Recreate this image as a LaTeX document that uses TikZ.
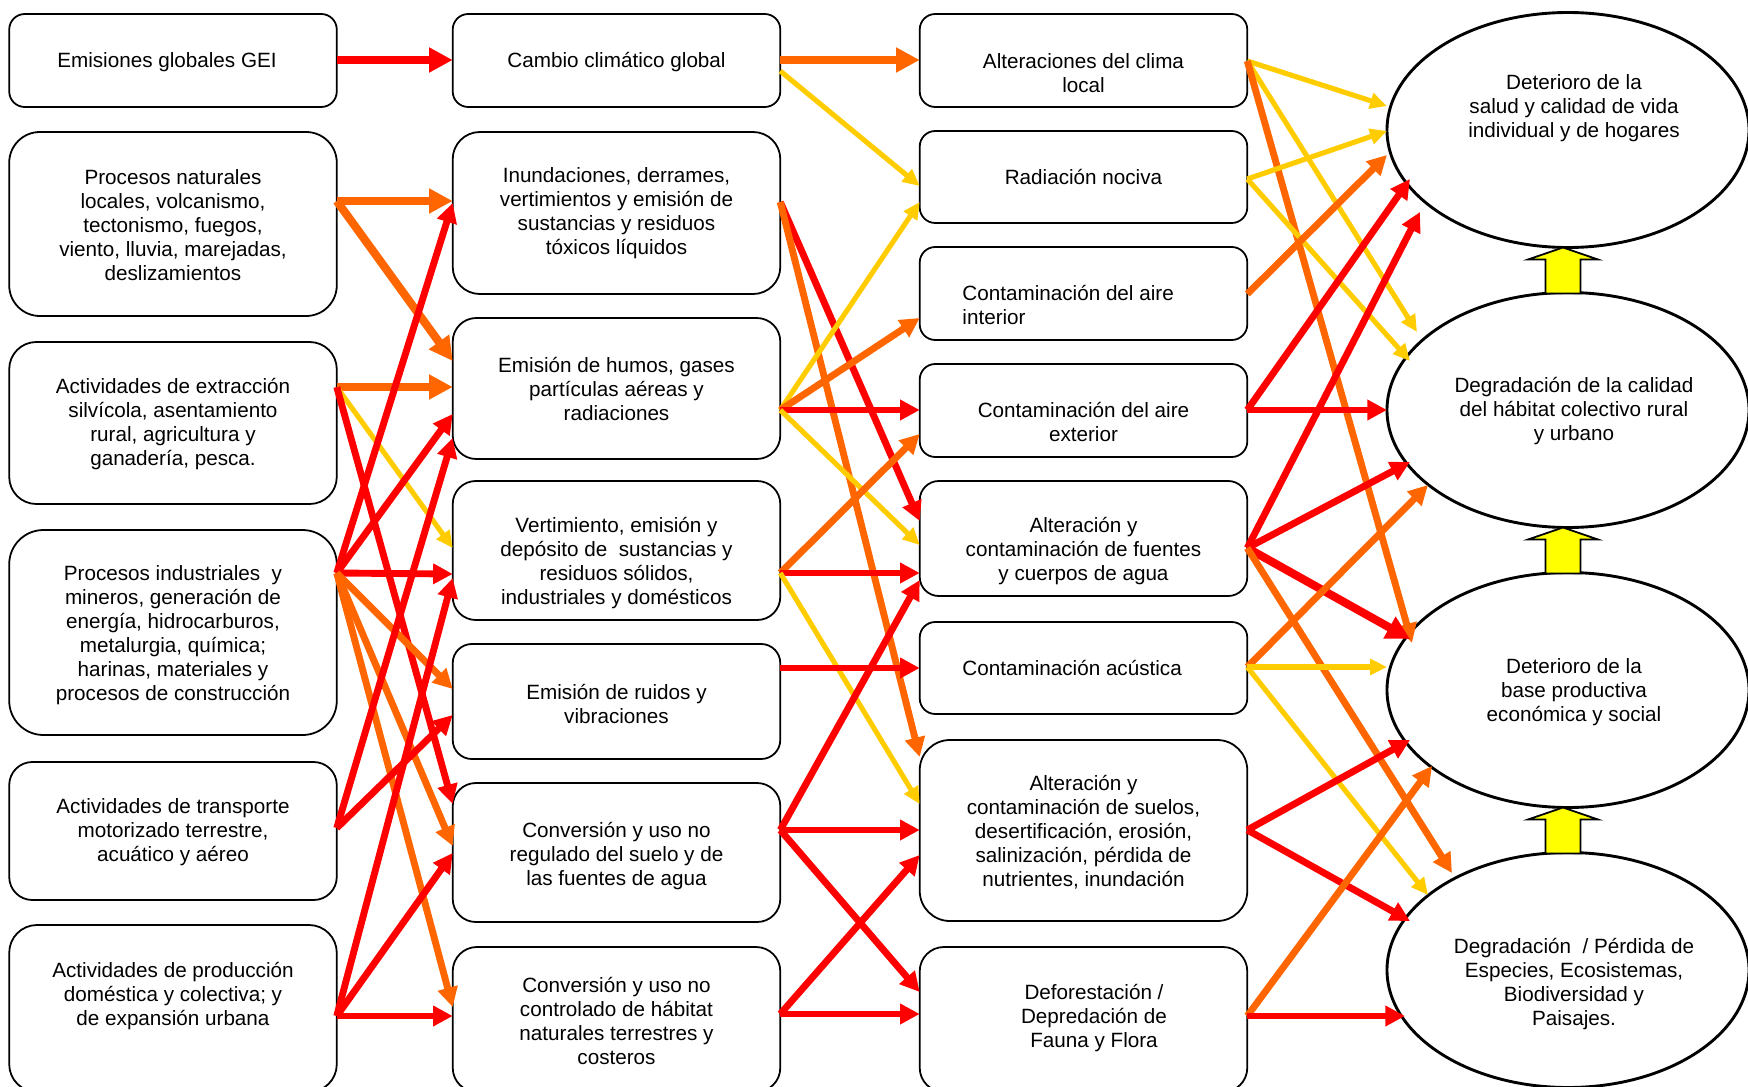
\documentclass[tikz,border=0pt]{standalone}
\usepackage{fontspec}
\setmainfont{Liberation Sans}
\usetikzlibrary{arrows.meta,shapes.geometric,calc}
\definecolor{cRed}{HTML}{FF0000}
\definecolor{cOrange}{HTML}{FF6600}
\definecolor{cGold}{HTML}{FFCC00}
\definecolor{cYellow}{HTML}{FFFF00}
\begin{document}
\begin{tikzpicture}[x=0.45pt,y=-0.45pt,
  box/.style={draw, line width=0.8pt, fill=white, inner sep=0pt, outer sep=0pt, minimum width=147.4pt},
  goal/.style={ellipse, draw, line width=1.3pt, fill=white, inner sep=0pt, outer sep=0pt,
               minimum width=162.9pt, minimum height=105.75pt},
  txt/.style={align=center, inner sep=0pt, yshift=-1pt, font=\fontsize{9.3pt}{10.8pt}\selectfont},
  ltxt/.style={txt, align=left, anchor=west},
  rd/.style={draw=cRed}, og/.style={draw=cOrange}, yl/.style={draw=cGold},
  heavy/.style={line width=3.7pt, -{Triangle[length=10.6pt,width=10.6pt]}},
  medium/.style={line width=3.1pt, -{Triangle[length=8.8pt,width=8.8pt]}},
  light/.style={line width=2.3pt, -{Triangle[length=7.6pt,width=7pt]}},
  uparrow/.style={draw, line width=0.8pt, fill=cYellow, line join=miter}
]
\useasboundingbox (0,0) rectangle (1748,1087);
\clip (0,0) rectangle (1748,1087);

% impact ellipses (right column)
\node[goal] (E1) at (1568,130) {};
\node[goal] (E2) at (1568,410) {};
\node[goal] (E3) at (1568,690) {};
\node[goal] (E4) at (1568,970) {};

% block arrows linking the impacts upwards
\foreach \a in {E1,E2,E3}{
  \draw[uparrow] ($(\a.south)+(-5,0)$) -- ++(35,12) -- ++(-17.5,0) -- ++(0,34)
     -- ++(-35,0) -- ++(0,-34) -- ++(-17.5,0) -- cycle;
}

% column 1: drivers
\node[box, minimum height=41.85pt, rounded corners=7pt]    (B1) at (173,60.5) {};
\node[box, minimum height=82.8pt,  rounded corners=13.8pt] (B2) at (173,224) {};
\node[box, minimum height=72.9pt,  rounded corners=12.2pt] (B3) at (173,423) {};
\node[box, minimum height=92.25pt, rounded corners=15.4pt] (B4) at (173,632.5) {};
\node[box, minimum height=62.1pt,  rounded corners=10.4pt] (B5) at (173,831) {};
\node[box, minimum height=75.15pt, rounded corners=12.5pt] (B6) at (173,1008.5) {};

% column 2: pressures
\node[box, minimum height=41.85pt, rounded corners=7pt]    (C1) at (616.5,60.5) {};
\node[box, minimum height=72.9pt,  rounded corners=12.2pt] (C2) at (616.5,213) {};
\node[box, minimum height=63.45pt, rounded corners=10.6pt] (C3) at (616.5,388.5) {};
\node[box, minimum height=62.55pt, rounded corners=10.4pt] (C4) at (616.5,550.5) {};
\node[box, minimum height=51.75pt, rounded corners=8.6pt]  (C5) at (616.5,701.5) {};
\node[box, minimum height=62.55pt, rounded corners=10.4pt] (C6) at (616.5,852.5) {};
\node[box, minimum height=65.25pt, rounded corners=10.9pt] (C7) at (616.5,1019.5) {};

% column 3: states
\node[box, minimum height=41.85pt, rounded corners=7pt]    (D1) at (1083.5,60.5) {};
\node[box, minimum height=41.4pt,  rounded corners=7pt]    (D2) at (1083.5,177) {};
\node[box, minimum height=41.85pt, rounded corners=7pt]    (D3) at (1083.5,293.5) {};
\node[box, minimum height=41.85pt, rounded corners=7pt]    (D4) at (1083.5,410.5) {};
\node[box, minimum height=51.75pt, rounded corners=8.6pt]  (D5) at (1083.5,538.5) {};
\node[box, minimum height=41.4pt,  rounded corners=7pt]    (D6) at (1083.5,668) {};
\node[box, minimum height=81.45pt, rounded corners=13.6pt] (D7) at (1083.5,830.5) {};
\node[box, minimum height=65.25pt, rounded corners=10.9pt] (D8) at (1083.5,1019.5) {};

% drivers -> pressures
\draw[heavy,rd]  (B1.east |- 0,60)   -- (C1.west |- 0,60);
\draw[heavy,og]  (B2.east |- 0,201)  -- (C2.west |- 0,201);
\draw[heavy,og]  (B2.east |- 0,201)  -- (C3.west |- 0,361);
\draw[heavy,og]  (B3.east |- 0,387)  -- (C3.west |- 0,387);
\draw[light,yl]  (B3.east |- 0,387)  -- (C4.west |- 0,548);
\draw[medium,rd] (B3.east |- 0,387)  -- (C6.west |- 0,804);
\draw[medium,rd] (B4.east |- 0,573)  -- (C2.west |- 0,203);
\draw[medium,rd] (B4.east |- 0,573)  -- (C3.west |- 0,414);
\draw[medium,rd] (B4.east |- 0,573)  -- (C4.west |- 0,574);
\draw[medium,og] (B4.east |- 0,573)  -- (C5.west |- 0,689);
\draw[medium,og] (B4.east |- 0,573)  -- (C6.west |- 0,846);
\draw[medium,og] (B4.east |- 0,573)  -- (C7.west |- 0,1007);
\draw[medium,rd] (B5.east |- 0,828)  -- (C3.west |- 0,438);
\draw[medium,rd] (B5.east |- 0,828)  -- (C5.west |- 0,715);
\draw[medium,rd] (B6.east |- 0,1016) -- (C4.west |- 0,578);
\draw[medium,rd] (B6.east |- 0,1016) -- (C6.west |- 0,853);
\draw[medium,rd] (B6.east |- 0,1016) -- (C7.west |- 0,1016);

% pressures -> states
\draw[heavy,og]  (C1.east |- 0,60)   -- (D1.west |- 0,60);
\draw[light,yl]  (C1.east |- 0,71)   -- (D2.west |- 0,186);
\draw[medium,rd] (C2.east |- 0,202)  -- (D5.west |- 0,521);
\draw[medium,og] (C2.east |- 0,202)  -- (D7.west |- 0,757);
\draw[light,yl]  (C3.east |- 0,410)  -- (D2.west |- 0,202);
\draw[medium,og] (C3.east |- 0,410)  -- (D3.west |- 0,318);
\draw[medium,rd] (C3.east |- 0,410)  -- (D4.west |- 0,410);
\draw[light,yl]  (C3.east |- 0,410)  -- (D5.west |- 0,545);
\draw[medium,og] (C4.east |- 0,573)  -- (D4.west |- 0,434);
\draw[medium,rd] (C4.east |- 0,573)  -- (D5.west |- 0,573);
\draw[light,yl]  (C4.east |- 0,573)  -- (D7.west |- 0,804);
\draw[medium,rd] (C5.east |- 0,668)  -- (D6.west |- 0,668);
\draw[medium,rd] (C6.east |- 0,830)  -- (D5.west |- 0,580);
\draw[medium,rd] (C6.east |- 0,830)  -- (D7.west |- 0,830);
\draw[medium,rd] (C6.east |- 0,830)  -- (D8.west |- 0,992);
\draw[medium,rd] (C7.east |- 0,1014) -- (D7.west |- 0,855);
\draw[medium,rd] (C7.east |- 0,1014) -- (D8.west |- 0,1014);

% states -> impacts
\draw[light,yl]  (D1.east |- 0,61)   -- ($(E1)+(-181,-24)$);
\draw[light,yl]  (D1.east |- 0,61)   -- ($(E2)+(-151,-78)$);
\draw[medium,og] (D1.east |- 0,61)   -- ($(E3)+(-156,-47)$);
\draw[light,yl]  (D2.east |- 0,179)  -- ($(E1)+(-181,1)$);
\draw[light,yl]  (D2.east |- 0,179)  -- ($(E2)+(-158,-49)$);
\draw[medium,og] (D3.east |- 0,294)  -- ($(E1)+(-181,25)$);
\draw[medium,rd] (D4.east |- 0,410)  -- ($(E1)+(-158,49)$);
\draw[medium,rd] (D4.east |- 0,410)  -- ($(E2)+(-181,0)$);
\draw[medium,rd] (D5.east |- 0,548)  -- ($(E1)+(-148,82)$);
\draw[medium,rd] (D5.east |- 0,548)  -- ($(E2)+(-158,52)$);
\draw[heavy,rd]  (D5.east |- 0,548)  -- ($(E3)+(-158,-51)$);
\draw[medium,og] (D5.east |- 0,548)  -- ($(E4)+(-116,-97)$);
\draw[medium,og] (D6.east |- 0,667)  -- ($(E2)+(-140,75)$);
\draw[light,yl]  (D6.east |- 0,667)  -- ($(E3)+(-181,-23)$);
\draw[light,yl]  (D6.east |- 0,667)  -- ($(E4)+(-140,-75)$);
\draw[medium,rd] (D7.east |- 0,830)  -- ($(E3)+(-158,50)$);
\draw[medium,rd] (D7.east |- 0,830)  -- ($(E4)+(-158,-49)$);
\draw[medium,og] (D8.east |- 0,1016) -- ($(E3)+(-136,76)$);
\draw[medium,rd] (D8.east |- 0,1016) -- ($(E4)+(-163,46)$);

% texts
\node[txt] (B1t) at (167,60) {Emisiones globales GEI};
\node[txt] (B2t) at (173,223) {Procesos naturales\\locales, volcanismo,\\tectonismo, fuegos,\\viento, lluvia, marejadas,\\deslizamientos};
\node[txt] (B3t) at (173,421.5) {Actividades de extracción\\silvícola, asentamiento\\rural, agricultura y\\ganadería, pesca.};
\node[txt] (B4t) at (173,632.5) {Procesos industriales~ y\\mineros, generación de\\energía, hidrocarburos,\\metalurgia, química;\\harinas, materiales y\\procesos de construcción};
\node[txt] (B5t) at (173,830) {Actividades de transporte\\motorizado terrestre,\\acuático y aéreo};
\node[txt] (B6t) at (173,994) {Actividades de producción\\doméstica y colectiva; y\\de expansión urbana};

\node[txt] (C1t) at (616.5,60) {Cambio climático global};
\node[txt] (C2t) at (616.5,211) {Inundaciones, derrames,\\vertimientos y emisión de\\sustancias y residuos\\tóxicos líquidos};
\node[txt] (C3t) at (616.5,386.5) {Emisión de humos, gases\\partículas aéreas y\\radiaciones};
\node[txt] (C4t) at (616.5,561) {Vertimiento, emisión y\\depósito de~ sustancias y\\residuos sólidos,\\industriales y domésticos};
\node[txt] (C5t) at (616.5,702) {Emisión de ruidos y\\vibraciones};
\node[txt] (C6t) at (616.5,854) {Conversión y uso no\\regulado del suelo y de\\las fuentes de agua};
\node[txt] (C7t) at (616.5,1019) {Conversión y uso no\\controlado de hábitat\\naturales terrestres y\\costeros};

\node[txt] (D1t) at (1083.5,71) {Alteraciones del clima\\local};
\node[txt] (D2t) at (1083.5,175) {Radiación nociva};
\node[ltxt] (D3t) at (962,303) {Contaminación del aire\\interior};
\node[txt] (D4t) at (1083.5,420) {Contaminación del aire\\exterior};
\node[txt] (D5t) at (1083.5,549) {Alteración y\\contaminación de fuentes\\y cuerpos de agua};
\node[ltxt] (D6t) at (962,665.5) {Contaminación acústica};
\node[txt] (D7t) at (1083.5,830) {Alteración y\\contaminación de suelos,\\desertificación, erosión,\\salinización, pérdida de\\nutrientes, inundación};
\node[txt] (D8t) at (1094,1016) {Deforestación /\\Depredación de\\Fauna y Flora};

\node[txt] (E1t) at (1574,105.5) {Deterioro de la\\salud y calidad de vida\\individual y de hogares};
\node[txt] (E2t) at (1574,409) {Degradación de la calidad\\del hábitat colectivo rural\\y urbano};
\node[txt] (E3t) at (1574,689.5) {Deterioro de la\\base productiva\\económica y social};
\node[txt] (E4t) at (1574,981.5) {Degradación~ / Pérdida de\\Especies, Ecosistemas,\\Biodiversidad y\\Paisajes.};
\end{tikzpicture}
\end{document}
